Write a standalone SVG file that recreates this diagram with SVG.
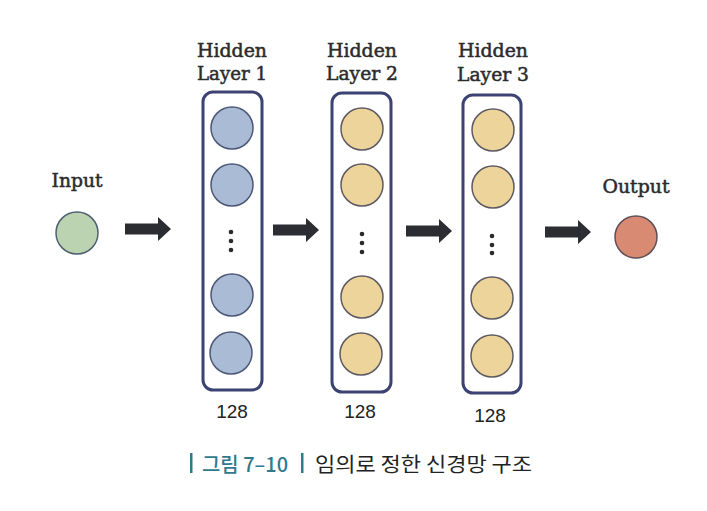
<svg xmlns="http://www.w3.org/2000/svg" width="707" height="511" viewBox="0 0 707 511">
<defs>
<style>
.lbl{font-family:"DejaVu Serif","Liberation Serif",serif;font-size:18px;fill:#2b2b2b;stroke:#2b2b2b;stroke-width:0.5;text-anchor:middle}
.num{font-family:"Liberation Sans",Arial,sans-serif;font-size:19px;fill:#222;text-anchor:middle}
.box{fill:#fff;stroke:#3c4373;stroke-width:3}
.blue{fill:#a9bbd5;stroke:#4b5878;stroke-width:1.5}
.yel{fill:#ecd49b;stroke:#5d5a62;stroke-width:1.5}
.dot{fill:#2a2a2a}
.arr{fill:#2b2d33}
.cap{font-family:"Noto Sans CJK KR","Noto Sans",sans-serif;font-size:20px}
</style>
<path id="arrowShape" d="M0,-5.5 H33 V-12 L46,0 L33,12 V5.5 H0 Z"/>
</defs>
<rect width="707" height="511" fill="#ffffff"/>

<g id="connectors">
<use href="#arrowShape" class="arr" x="125" y="229"/>
<use href="#arrowShape" class="arr" x="273" y="230"/>
<use href="#arrowShape" class="arr" x="406" y="231"/>
<use href="#arrowShape" class="arr" x="545" y="232"/>
</g>

<g id="input">
<text class="lbl" x="77" y="187" textLength="51" lengthAdjust="spacingAndGlyphs">Input</text>
<circle cx="77" cy="233" r="21" fill="#bcd3b1" stroke="#4f6070" stroke-width="1.5"/>
</g>

<g id="hidden1">
<text class="lbl" x="232" y="57" textLength="70" lengthAdjust="spacingAndGlyphs">Hidden</text>
<text class="lbl" x="232" y="80" textLength="70" lengthAdjust="spacingAndGlyphs">Layer 1</text>
<rect class="box" x="203" y="92" width="59" height="298" rx="10"/>
<circle class="blue" cx="232" cy="128" r="21"/>
<circle class="blue" cx="232" cy="185" r="21"/>
<circle class="dot" cx="231" cy="232" r="2.3"/>
<circle class="dot" cx="231" cy="241" r="2.3"/>
<circle class="dot" cx="231" cy="250" r="2.3"/>
<circle class="blue" cx="232" cy="295" r="21"/>
<circle class="blue" cx="231" cy="353" r="21"/>
<text class="num" x="232" y="418">128</text>
</g>

<g id="hidden2">
<text class="lbl" x="362" y="57" textLength="70" lengthAdjust="spacingAndGlyphs">Hidden</text>
<text class="lbl" x="362" y="80" textLength="72" lengthAdjust="spacingAndGlyphs">Layer 2</text>
<rect class="box" x="332" y="93" width="59" height="299" rx="10"/>
<circle class="yel" cx="362" cy="129" r="21"/>
<circle class="yel" cx="362" cy="185" r="21"/>
<circle class="dot" cx="362" cy="234" r="2.3"/>
<circle class="dot" cx="362" cy="243" r="2.3"/>
<circle class="dot" cx="362" cy="252" r="2.3"/>
<circle class="yel" cx="362" cy="297" r="21"/>
<circle class="yel" cx="361" cy="354" r="21"/>
<text class="num" x="360" y="418">128</text>
</g>

<g id="hidden3">
<text class="lbl" x="493" y="57" textLength="70" lengthAdjust="spacingAndGlyphs">Hidden</text>
<text class="lbl" x="493" y="81" textLength="72" lengthAdjust="spacingAndGlyphs">Layer 3</text>
<rect class="box" x="463" y="95" width="58" height="298" rx="10"/>
<circle class="yel" cx="493" cy="130" r="21"/>
<circle class="yel" cx="493" cy="187" r="21"/>
<circle class="dot" cx="492" cy="236" r="2.3"/>
<circle class="dot" cx="492" cy="245" r="2.3"/>
<circle class="dot" cx="492" cy="253" r="2.3"/>
<circle class="yel" cx="492" cy="298" r="21"/>
<circle class="yel" cx="492" cy="356" r="21"/>
<text class="num" x="490" y="422">128</text>
</g>

<g id="output">
<text class="lbl" x="636" y="193" textLength="67" lengthAdjust="spacingAndGlyphs">Output</text>
<circle cx="636" cy="237" r="21" fill="#d98a72" stroke="#5f5058" stroke-width="1.5"/>
</g>

<g id="caption">
<rect x="190" y="453" width="2.5" height="20" fill="#2f7a8c"/>
<text class="cap" x="202" y="472" fill="#2f7a8c" font-weight="500" textLength="86" lengthAdjust="spacingAndGlyphs">그림 7–10</text>
<rect x="301" y="453" width="2.5" height="20" fill="#2f7a8c"/>
<text class="cap" x="315" y="472" fill="#222" textLength="217" lengthAdjust="spacingAndGlyphs">임의로 정한 신경망 구조</text>
</g>
</svg>
